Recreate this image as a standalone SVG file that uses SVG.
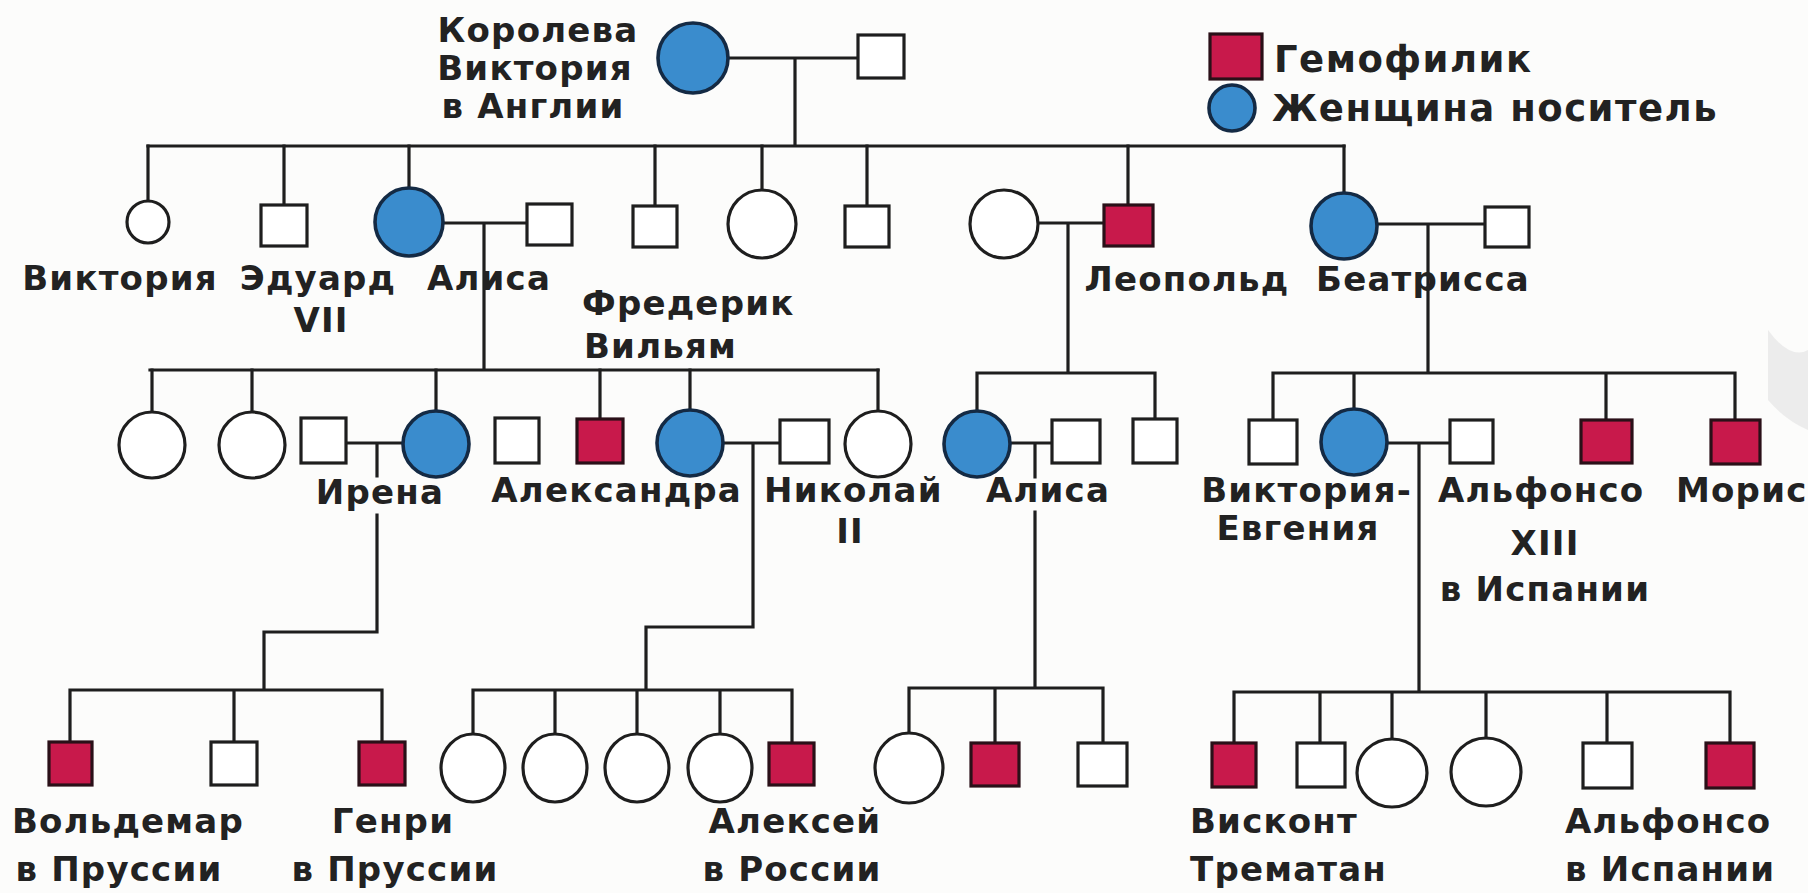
<svg xmlns="http://www.w3.org/2000/svg" width="1808" height="893" viewBox="0 0 1808 893">
<style>
.bg{fill:#fcfcfb}
.ln{stroke:#1e1e1e;stroke-width:3.2;fill:none;stroke-linecap:square}
.m{fill:#fff;stroke:#1e1e1e;stroke-width:3.2}
.f{fill:#fff;stroke:#1e1e1e;stroke-width:3.2}
.h{fill:#c8194b;stroke:#2a1018;stroke-width:3.2}
.c{fill:#3a8ccd;stroke:#142a44;stroke-width:3.6}
text{font-family:"DejaVu Sans","Liberation Sans",sans-serif;font-weight:bold;font-size:34px;fill:#222;letter-spacing:1.2px}
.lg{font-size:37px;letter-spacing:1.5px}
.mid{text-anchor:middle}
.end{text-anchor:end}
</style>
<rect class="bg" x="0" y="0" width="1808" height="893"/>
<path d="M1768 330 Q1790 360 1808 350 L1808 430 Q1785 420 1768 400 Z" fill="#e6e6e6" opacity="0.7"/>

<g id="legend">
<rect class="h" x="1210" y="34" width="52" height="45"/>
<text class="lg" x="1274" y="72">Гемофилик</text>
<circle class="c" cx="1232" cy="108" r="23"/>
<text class="lg" x="1272" y="121">Женщина носитель</text>
</g>

<g id="connectors">
<path class="ln" d="M727 58 H858 M795 58 V146 M148 146 H1344"/>
<path class="ln" d="M148 146 V201 M284 146 V205 M409 146 V188 M655 146 V206 M762 146 V190 M867 146 V206 M1128 146 V205 M1344 146 V193"/>
<path class="ln" d="M443 223 H527 M484 223 V370 M150 370 H878"/>
<path class="ln" d="M152 370 V412 M252 370 V412 M436 370 V411 M600 370 V419 M690 370 V410 M878 370 V411"/>
<path class="ln" d="M1038 223 H1104 M1068 223 V373 M977 373 H1155 M977 373 V411 M1155 373 V419"/>
<path class="ln" d="M1377 224 H1485 M1428 224 V373 M1273 373 H1735 M1273 373 V420 M1354 373 V409 M1606 373 V420 M1735 373 V420"/>
<path class="ln" d="M346 443 H403 M377 443 V476 M377 515 V632 H264 V690 M70 690 H382 M70 690 V742 M234 690 V742 M382 690 V742"/>
<path class="ln" d="M723 443 H780 M753 443 V627 H646 V690 M473 690 H792 M473 690 V734 M555 690 V734 M637 690 V734 M720 690 V734 M792 690 V743"/>
<path class="ln" d="M1010 443 H1052 M1035 443 V477 M1035 512 V688 M909 688 H1103 M909 688 V734 M995 688 V743 M1103 688 V743"/>
<path class="ln" d="M1387 443 H1450 M1419 443 V692 M1234 692 H1730 M1234 692 V743 M1320 692 V743 M1392 692 V739 M1486 692 V738 M1607 692 V743 M1730 692 V743"/>
</g>

<g id="queen-victoria"><circle class="c" cx="693" cy="58" r="35"/>
<text class="mid" x="538" y="42">Королева</text><text class="mid" x="535" y="80">Виктория</text><text class="mid" x="533" y="118">в Англии</text></g>
<g id="albert"><rect class="m" x="858" y="35" width="46" height="43"/></g>

<g id="victoria"><circle class="f" cx="148" cy="222" r="21"/><text class="mid" x="120" y="290">Виктория</text></g>
<g id="edward-vii"><rect class="m" x="261" y="205" width="46" height="41"/><text class="mid" x="318" y="290">Эдуард</text><text class="mid" x="321" y="332">VII</text></g>
<g id="alice"><circle class="c" cx="409" cy="222" r="34"/><text class="mid" x="489" y="290">Алиса</text></g>
<g id="alice-husband"><rect class="m" x="527" y="204" width="45" height="41"/></g>
<g id="son-4"><rect class="m" x="633" y="206" width="44" height="41"/></g>
<g id="daughter-5"><circle class="f" cx="762" cy="224" r="34"/></g>
<g id="son-6"><rect class="m" x="845" y="206" width="44" height="41"/></g>
<g id="leopold-wife"><circle class="f" cx="1004" cy="224" r="34"/></g>
<g id="leopold"><rect class="h" x="1104" y="205" width="49" height="41"/><text class="mid" x="1187" y="291">Леопольд</text></g>
<g id="beatrice"><circle class="c" cx="1344" cy="226" r="33"/><text class="mid" x="1423" y="291">Беатрисса</text></g>
<g id="beatrice-husband"><rect class="m" x="1485" y="207" width="44" height="40"/></g>
<g id="frederick-william"><text x="582" y="315">Фредерик</text><text x="584" y="358">Вильям</text></g>

<g id="alice-d1"><circle class="f" cx="152" cy="445" r="33"/></g>
<g id="alice-d2"><circle class="f" cx="252" cy="445" r="33"/></g>
<g id="irene-husband"><rect class="m" x="301" y="418" width="45" height="45"/></g>
<g id="irene"><circle class="c" cx="436" cy="444" r="33"/><text class="mid" x="380" y="504">Ирена</text></g>
<g id="square-unlinked"><rect class="m" x="495" y="418" width="44" height="45"/></g>
<g id="alice-son"><rect class="h" x="577" y="419" width="46" height="44"/></g>
<g id="alexandra"><circle class="c" cx="690" cy="443" r="33"/><text class="end" x="742" y="502">Александра</text></g>
<g id="nicholas-ii"><rect class="m" x="780" y="420" width="49" height="43"/><text x="764" y="502">Николай</text><text class="mid" x="850" y="543">II</text></g>
<g id="alice-d6"><circle class="f" cx="878" cy="444" r="33"/></g>
<g id="alice-leopold"><circle class="c" cx="977" cy="444" r="33"/><text class="mid" x="1048" y="502">Алиса</text></g>
<g id="alice-leopold-husband"><rect class="m" x="1052" y="420" width="48" height="43"/></g>
<g id="leopold-son"><rect class="m" x="1133" y="419" width="44" height="44"/></g>
<g id="beatrice-son1"><rect class="m" x="1249" y="420" width="48" height="44"/></g>
<g id="victoria-eugenie"><circle class="c" cx="1354" cy="442" r="33"/><text class="end" x="1412" y="502">Виктория-</text><text class="mid" x="1298" y="540">Евгения</text></g>
<g id="alfonso-xiii"><rect class="m" x="1450" y="420" width="43" height="43"/><text x="1438" y="502">Альфонсо</text><text class="mid" x="1545" y="555">XIII</text><text class="mid" x="1545" y="601">в Испании</text></g>
<g id="beatrice-son3"><rect class="h" x="1581" y="420" width="51" height="43"/></g>
<g id="maurice"><rect class="h" x="1711" y="420" width="49" height="44"/><text x="1676" y="502">Морис</text></g>

<g id="waldemar"><rect class="h" x="49" y="742" width="43" height="43"/><text class="mid" x="128" y="833">Вольдемар</text><text class="mid" x="119" y="881">в Пруссии</text></g>
<g id="irene-son2"><rect class="m" x="211" y="742" width="46" height="43"/></g>
<g id="henry"><rect class="h" x="359" y="742" width="46" height="43"/><text class="mid" x="393" y="833">Генри</text><text class="mid" x="395" y="881">в Пруссии</text></g>
<g id="olga"><ellipse class="f" cx="473" cy="768" rx="32" ry="34"/></g>
<g id="tatiana"><ellipse class="f" cx="555" cy="768" rx="32" ry="34"/></g>
<g id="maria"><ellipse class="f" cx="637" cy="768" rx="32" ry="34"/></g>
<g id="anastasia"><ellipse class="f" cx="720" cy="768" rx="32" ry="34"/></g>
<g id="alexei"><rect class="h" x="769" y="743" width="45" height="42"/><text class="mid" x="795" y="833">Алексей</text><text class="mid" x="792" y="881">в России</text></g>
<g id="alice-l-d"><ellipse class="f" cx="909" cy="768" rx="34" ry="35"/></g>
<g id="alice-l-s1"><rect class="h" x="971" y="743" width="48" height="43"/></g>
<g id="alice-l-s2"><rect class="m" x="1078" y="743" width="49" height="43"/></g>
<g id="viscount"><rect class="h" x="1212" y="743" width="44" height="44"/><text x="1190" y="833">Висконт</text><text x="1190" y="881">Трематан</text></g>
<g id="ve-s2"><rect class="m" x="1297" y="743" width="48" height="44"/></g>
<g id="ve-d1"><ellipse class="f" cx="1392" cy="773" rx="35" ry="34"/></g>
<g id="ve-d2"><ellipse class="f" cx="1486" cy="772" rx="35" ry="34"/></g>
<g id="ve-s3"><rect class="m" x="1583" y="743" width="49" height="45"/></g>
<g id="alfonso"><rect class="h" x="1706" y="743" width="48" height="45"/><text x="1565" y="833">Альфонсо</text><text x="1565" y="881">в Испании</text></g>
</svg>
